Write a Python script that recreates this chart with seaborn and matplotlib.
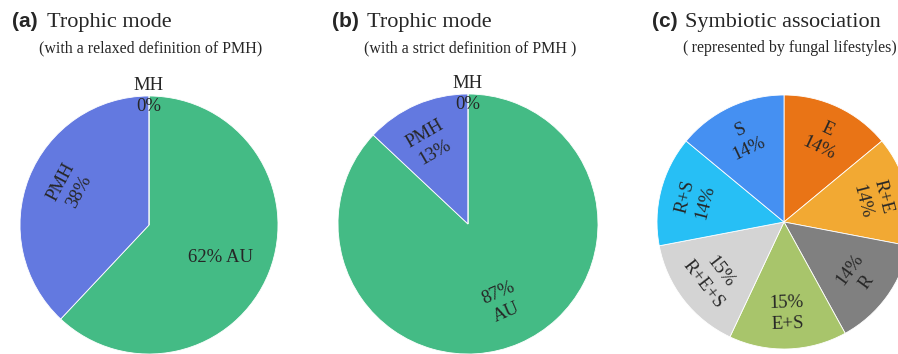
import numpy as np
import seaborn as sns
import matplotlib.pyplot as plt

# Data
trophic_labels = ["AU", "PMH", "MH"]
relaxed_pct = [62, 38, 0]
strict_pct = [87, 13, 0]
lifestyle_labels = ["E", "R+E", "R", "E+S", "R+E+S", "R+S", "S"]
lifestyle_pct = [14, 14, 14, 15, 15, 14, 14]

trophic_colors = ["#44BB85", "#6379E0", "#6379E0"]
lifestyle_colors = ["#E97416", "#F2A933", "#808080", "#A8C56B",
                    "#D4D4D4", "#27BFF5", "#4590F2"]

sns.set_theme(style="white")
serif = ["Liberation Serif", "DejaVu Serif"]
sans = ["Liberation Sans", "DejaVu Sans"]

W, H = 898, 354
fig = plt.figure(figsize=(W / 100, H / 100), dpi=100)


def pie_axes(cx, cy, R, lim=1.3):
    return fig.add_axes([(cx - lim * R) / W, (H - cy - lim * R) / H,
                         2 * lim * R / W, 2 * lim * R / H])


def draw_pie(ax, values, colors, texts, place, lim=1.3):
    wedges, _ = ax.pie(values, colors=colors, startangle=90, counterclock=False,
                       radius=1, wedgeprops=dict(edgecolor="white", linewidth=0.6))
    for w, txt, (r, shift, rot) in zip(wedges, texts, place):
        mid = (w.theta1 + w.theta2) / 2
        if rot == "tan":
            rot = (mid - 90 + 90) % 180 - 90
        ang = np.deg2rad(mid + shift)
        ax.text(r * np.cos(ang), r * np.sin(ang), txt, ha="center", va="center",
                rotation=rot, rotation_mode="anchor", family=serif, fontsize=13.5,
                linespacing=1.3)
    ax.set_xlim(-lim, lim)
    ax.set_ylim(-lim, lim)
    ax.axis("off")


def fmt(lab, v):
    return f"{lab}\n{v}%"


# (a) relaxed definition
ax_a = pie_axes(149, 225, 129)
draw_pie(ax_a, relaxed_pct, trophic_colors,
         [f"{relaxed_pct[0]}% AU", fmt("PMH", relaxed_pct[1]), fmt("MH", relaxed_pct[2])],
         [(0.61, -2.5, 0), (0.68, -4, 62), (1.0, 0, 0)])

# (b) strict definition
ax_b = pie_axes(468, 224, 130)
draw_pie(ax_b, strict_pct, trophic_colors,
         [f"{strict_pct[0]}%\nAU", fmt("PMH", strict_pct[1]), fmt("MH", strict_pct[2])],
         [(0.66, 0, "tan"), (0.69, 2, 30), (1.0, 0, 0)])

# (c) fungal lifestyles
ax_c = pie_axes(784, 222, 127)
c_texts = []
for lab, v in zip(lifestyle_labels, lifestyle_pct):
    if lab in ("R", "E+S", "R+E+S"):
        c_texts.append(f"{v}%\n{lab}")
    else:
        c_texts.append(fmt(lab, v))
draw_pie(ax_c, lifestyle_pct, lifestyle_colors, c_texts,
         [(0.72, 0, "tan")] * len(lifestyle_pct))

# Titles
titles = [("(a)", "Trophic mode", "(with a relaxed definition of PMH)", 12, 47, 151, "center"),
          ("(b)", "Trophic mode", "(with a strict definition of PMH )", 332, 367, 470, "center"),
          ("(c)", "Symbiotic association", "(\u2009represented by fungal lifestyles)", 683, 685, 683, "left")]
for tag, main, sub, x0, x1, xs, ha in titles:
    x0 = 652 if tag == "(c)" else x0
    fig.text(x0 / W, 1 - 27 / H, tag, family=sans, weight="bold", fontsize=15,
             va="baseline", ha="left")
    fig.text(x1 / W, 1 - 27 / H, main, family=serif, fontsize=16,
             va="baseline", ha="left")
    fig.text(xs / W, 1 - 52 / H, sub, family=serif, fontsize=11.5,
             va="baseline", ha=ha)

fig.savefig("out.png", dpi=100)
